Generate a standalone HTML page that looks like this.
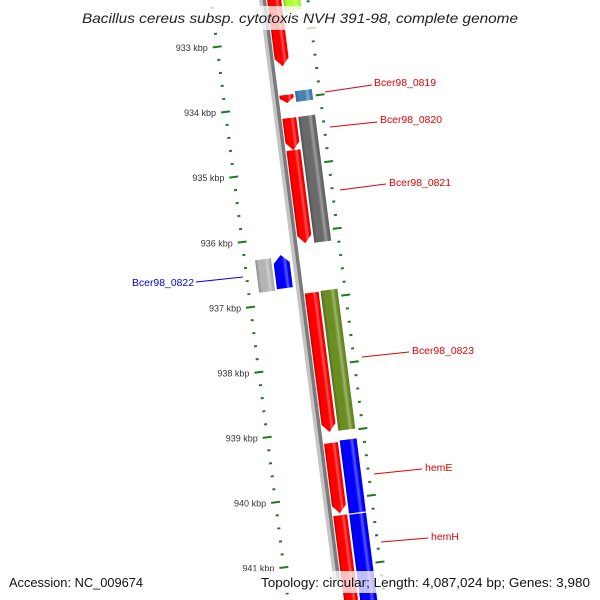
<!DOCTYPE html>
<html><head><meta charset="utf-8"><style>
html,body{margin:0;padding:0;background:#fff;width:600px;height:600px;overflow:hidden;position:relative;}
svg{display:block;}
text{font-family:"Liberation Sans","DejaVu Sans",sans-serif;}
</style></head><body>
<svg id="chart" width="600" height="600" viewBox="0 0 600 600" xmlns="http://www.w3.org/2000/svg" style="position:absolute;left:0;top:0;overflow:hidden">
<defs id="defs"></defs>
<g id="frame" transform="translate(225,112) rotate(-7.3)"></g>
<g id="screen"></g>
</svg>
<script>
// ---- data ----
const tickMajors = [933,934,935,936,937,938,939,940,941];
const tickLabels = ["933 kbp","934 kbp","935 kbp","936 kbp","937 kbp","938 kbp","939 kbp","940 kbp","941 kbp"];
const featStart = [931.5, 933.86, 934.215, 934.71, 936.90, 939.21, 940.32, 931.0, 933.82, 934.215, 936.89, 939.19, 940.33, 936.30, 936.27];
const featEnd   = [933.42, 933.985, 934.71, 936.14, 939.04, 940.29, 941.75, 932.6, 933.985, 936.15, 939.04, 940.32, 941.75, 936.80, 936.78];
const featTrack = ["r","r","r","r","r","r","r","o","o","o","o","o","o","l2","l1"];
const featArrow = [1,1,1,1,1,1,0,0,0,0,0,0,0,0,-1];
const featColor = ["#ff0000","#ff0000","#ff0000","#ff0000","#ff0000","#ff0000","#ff0000","#adff2f","#4682b4","#6a6a6a","#6b8e23","#0000ff","#0000ff","#b4b4b4","#0000ff"];
const geneNames = ["Bcer98_0819","Bcer98_0820","Bcer98_0821","Bcer98_0822","Bcer98_0823","hemE","hemH"];

const ALONG = 65.6, SIN = Math.sin(7.3*Math.PI/180), COS = Math.cos(7.3*Math.PI/180);
const tracks = {r:[56,70], o:[72,89], l1:[29,45], l2:[11,27]};
const NS = "http://www.w3.org/2000/svg";
const frame = document.getElementById('frame');
const scr = document.getElementById('screen');
const defs = document.getElementById('defs');
function sPos(k){ return (k-934)*ALONG; }
function toScreen(lat, along){ return [225 + lat*COS + along*SIN, 112 - lat*SIN + along*COS]; }
function mk(tag, attrs, parent){ const e=document.createElementNS(NS,tag); for(const a in attrs) e.setAttribute(a,attrs[a]); parent.appendChild(e); return e; }
function shade(hex,f){ let n=parseInt(hex.slice(1),16); let r=n>>16,g=(n>>8)&255,b=n&255;
  if(f<0){r*=1+f;g*=1+f;b*=1+f;} else {r+=(255-r)*f;g+=(255-g)*f;b+=(255-b)*f;}
  return `rgb(${r|0},${g|0},${b|0})`; }

// backbone
let bb1 = mk('rect',{x:48,y:-140,width:3.5,height:620,fill:'#c4c4c4'},frame);
 
let bb2 = mk('rect',{x:51.5,y:-140,width:3.5,height:620,fill:'#7a7a7a'},frame);
 

// ticks
for(let i=0;i<=48;i++){
  const k = 932.4 + i*0.2;
  const major = Math.abs(k-Math.round(k))<0.01;
  const s = sPos(k);
  const t = mk('rect',{x: major?-4:-1, y:s-1, width: major?9:3, height:2, fill:'#1e7b1e'},frame);
  
  
  const so = s - 5 + (k-934)*1.7;
  const o = mk('rect',{x: major?92:95, y:so-1, width: major?9:3, height:2, fill:'#1e7b1e'},frame);
  
  
}

// features
featStart.forEach((st,i)=>{
  const [l0,l1] = tracks[featTrack[i]];
  const a = sPos(st), b = sPos(featEnd[i]);
  const mid=(l0+l1)/2, h=Math.min(8,(b-a)*0.6);
  let pts;
  if(featArrow[i]===1) pts=[[l0,a],[l1,a],[l1,b-h],[mid,b],[l0,b-h]];
  else if(featArrow[i]===-1) pts=[[mid,a],[l1,a+h],[l1,b],[l0,b],[l0,a+h]];
  else pts=[[l0,a],[l1,a],[l1,b],[l0,b]];
  const c=featColor[i], gid='g'+i;
  const g=mk('linearGradient',{id:gid,x1:0,y1:0,x2:1,y2:0},defs);
  [[0,shade(c,-0.25)],[0.18,c],[0.55,c],[0.72,shade(c,0.35)],[0.85,c],[1,shade(c,-0.1)]].forEach(([o,col])=>mk('stop',{offset:o,'stop-color':col},g));
  const p=mk('polygon',{points:pts.map(q=>q.join(',')).join(' '),fill:`url(#${gid})`},frame);
  
  
});
const dv = mk('rect',{x:72,y:sPos(940.32)-0.5,width:17,height:1,fill:'#fff'},frame);
 

// tick labels
tickMajors.forEach((k,i)=>{
  const [x,y]=toScreen(-9, sPos(k));
  const t=mk('text',{x:x,y:y+3,'text-anchor':'end','font-size':9,fill:'#333'},scr);
  t.textContent=tickLabels[i];
  
  
});

// gene labels
const labelPos=[[374,86,325,92,372,85,'#e00000'],[380,123,330,127,377,122,'#e00000'],[389,186,340,190,386,184,'#e00000'],
 [132,286,243,277,196,282,'#0000e0'],[412,354,362,357,409,352,'#e00000'],[425,471,374,474,422,469,'#e00000'],[431,540,381,542,428,538,'#e00000']];
geneNames.forEach((n,i)=>{
  const L=labelPos[i];
  const ln=mk('line',{x1:L[2],y1:L[3],x2:L[4],y2:L[5],stroke:L[6],'stroke-width':1},scr);
  
  
  const attrs={x:L[0],y:L[1],'font-size':10.5,fill:L[6]};
  if(n.length>5){attrs.textLength=62;attrs.lengthAdjust='spacingAndGlyphs';}
  const t=mk('text',attrs,scr);
  t.textContent=n;
  
  
});
</script>
<svg style="position:absolute;left:0;top:0" width="600" height="600">
<rect x="78" y="6" width="446" height="24" fill="#fff" opacity="0.75"/>
<text x="300" y="23" text-anchor="middle" font-size="14" font-style="italic" fill="#222" textLength="436" lengthAdjust="spacingAndGlyphs" style="font-family:'Liberation Sans',sans-serif">Bacillus cereus subsp. cytotoxis NVH 391-98, complete genome</text>
<rect x="4" y="571" width="592" height="22" fill="#fff" opacity="0.75"/>
<text x="9" y="587" font-size="13" fill="#111" textLength="134" lengthAdjust="spacingAndGlyphs" style="font-family:'Liberation Sans',sans-serif">Accession: NC_009674</text>
<text x="590" y="587" text-anchor="end" font-size="13" fill="#111" textLength="329" lengthAdjust="spacingAndGlyphs" style="font-family:'Liberation Sans',sans-serif">Topology: circular; Length: 4,087,024 bp; Genes: 3,980</text>
</svg>
</body></html>
